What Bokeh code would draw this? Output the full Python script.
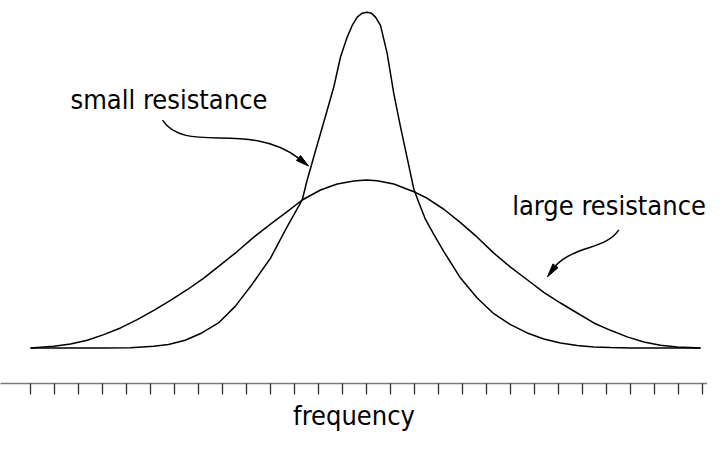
from bokeh.plotting import figure
from bokeh.models import Range1d, LinearAxis, FixedTicker, Label
from bokeh.embed import file_html
from bokeh.resources import INLINE

# frequency (in tick units, resonance at 0) and response amplitude (small-resistance peak = 1)
narrow_f = [-14.0, -11.083, -9.833, -8.863, -8.25, -7.554, -6.863, -6.167, -5.471, -4.779,
            -4.0, -3.304, -2.679, -2.471, -2.196, -1.917, -1.638, -1.363, -1.083, -0.804,
            -0.596, -0.388, -0.179, 0.029, 0.2, 0.375, 0.583, 0.8625, 1.1375, 1.4167,
            1.6958, 1.9708, 2.1667, 2.4583, 2.7917, 3.2208, 3.9167, 4.6125, 5.3042, 6.0,
            6.6958, 7.3875, 8.0833, 8.7792, 9.4708, 10.1667, 11.0, 13.917]
narrow_a = [0.0, 0.0, 0.001, 0.0053, 0.0104, 0.0232, 0.0451, 0.0748, 0.1241, 0.1885,
            0.2678, 0.3616, 0.4409, 0.5003, 0.5695, 0.6390, 0.7081, 0.7773, 0.8664, 0.9258,
            0.9605, 0.9852, 0.9970, 1.0, 0.997, 0.9852, 0.9605, 0.8765, 0.7577, 0.6585,
            0.5656, 0.4735, 0.4359, 0.3830, 0.3400, 0.2874, 0.2084, 0.1490, 0.1024, 0.0698,
            0.0451, 0.0273, 0.0154, 0.0074, 0.0036, 0.0015, 0.0, 0.0]

wide_f = [-14.0, -13.029, -12.333, -11.638, -10.946, -10.25, -9.554, -8.863, -8.167, -7.471,
          -6.779, -6.083, -5.388, -4.696, -4.0, -3.304, -2.679, -1.917, -1.221, -0.529,
          0.0, 0.446, 1.1375, 1.9708, 2.5292, 3.2208, 3.9167, 4.6125, 5.3042, 6.0,
          6.6958, 7.3875, 8.0833, 8.7792, 9.4708, 10.1667, 10.8625, 11.5542, 12.25, 12.9458,
          13.917]
wide_a = [0.0, 0.0053, 0.0125, 0.0232, 0.0401, 0.0600, 0.0846, 0.1122, 0.1419, 0.1737,
          0.2084, 0.2479, 0.2874, 0.3302, 0.3688, 0.4062, 0.4409, 0.4706, 0.4884, 0.4973,
          0.5003, 0.4982, 0.4884, 0.4656, 0.4460, 0.4133, 0.3735, 0.3302, 0.2827, 0.2411,
          0.2034, 0.1657, 0.1342, 0.1045, 0.0748, 0.0529, 0.0333, 0.0184, 0.0083, 0.0036,
          0.0]

tick_positions = list(range(-14, 15))
labels = ["small resistance", "large resistance"]
axis_title = "frequency"

FONT = "DejaVu Sans Condensed"
FSIZE = "27px"
W, H = 707, 433
BOTTOM = 49
x0, x1 = -15.25, 14.208
y0, y1 = -0.1054, 1.0347

p = figure(width=W, height=H, output_backend="svg", toolbar_location=None,
           x_range=Range1d(x0, x1), y_range=Range1d(y0, y1),
           x_axis_location=None, y_axis_location=None,
           min_border=0, min_border_bottom=BOTTOM)
p.outline_line_color = None
p.xgrid.visible = False
p.ygrid.visible = False
p.background_fill_color = "white"
p.border_fill_color = "white"

p.line(narrow_f, narrow_a, line_color="black", line_width=1.5)
p.line(wide_f, wide_a, line_color="black", line_width=1.5)

ax = LinearAxis(ticker=FixedTicker(ticks=tick_positions, minor_ticks=[]))
ax.axis_line_color = "#7a7a7a"
ax.axis_line_width = 1.5
ax.major_tick_line_color = "#333333"
ax.major_tick_line_width = 1.3
ax.major_tick_in = 0
ax.major_tick_out = 11
ax.major_label_overrides = {t: "" for t in tick_positions}
ax.major_label_text_font_size = "1px"
ax.major_label_standoff = 0
ax.axis_label = axis_title
ax.axis_label_text_font = FONT
ax.axis_label_text_font_size = FSIZE
ax.axis_label_text_font_style = "normal"
ax.axis_label_text_color = "black"
ax.axis_label_standoff = 5
p.add_layout(ax, "below")

# text labels
p.add_layout(Label(x=-12.333, y=0.7408, text=labels[0], text_font=FONT,
                   text_font_size=FSIZE, text_color="black", text_baseline="alphabetic"))
p.add_layout(Label(x=6.0708, y=0.4231, text=labels[1], text_font=FONT,
                   text_font_size=FSIZE, text_color="black", text_baseline="alphabetic"))

# curved arrows (annotation geometry)
px_x = W / (x1 - x0)
px_y = (H - BOTTOM) / (y1 - y0)

def head(base, tip, half_w=3.2):
    dx = (tip[0] - base[0]) * px_x
    dy = (tip[1] - base[1]) * px_y
    n = (dx * dx + dy * dy) ** 0.5
    nx, ny = -dy / n * half_w, dx / n * half_w
    xs = [tip[0], base[0] + nx / px_x, base[0] - nx / px_x]
    ys = [tip[1], base[1] + ny / px_y, base[1] - ny / px_y]
    return xs, ys

arrows = [
    ((-8.5, 0.6784), (-7.542, 0.5745), (-4.917, 0.6784), (-2.833, 0.5657), (-2.417, 0.5419)),
    ((10.513, 0.3518), (9.958, 0.2925), (8.708, 0.3073), (7.875, 0.2450), (7.542, 0.2123)),
]
for s, c1, c2, e, tip in arrows:
    p.bezier(x0=[s[0]], y0=[s[1]], x1=[e[0]], y1=[e[1]], cx0=[c1[0]], cy0=[c1[1]],
             cx1=[c2[0]], cy1=[c2[1]], line_color="black", line_width=1.5)
    hx, hy = head(e, tip)
    p.patch(hx, hy, fill_color="black", line_color="black", line_width=1)

open("out.html", "w").write(file_html(p, INLINE))
